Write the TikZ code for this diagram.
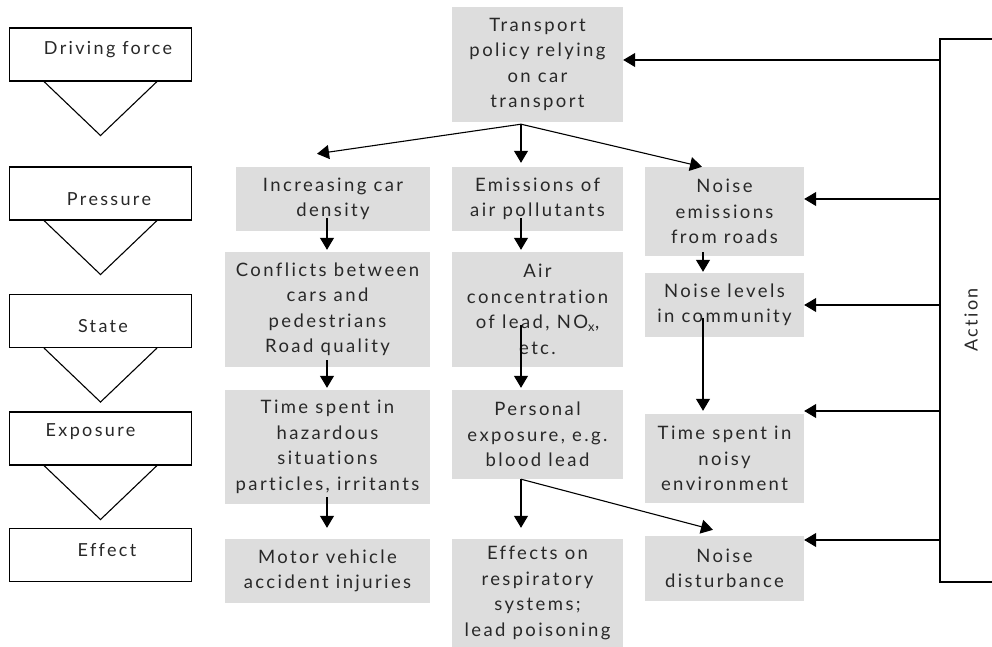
\documentclass[tikz,border=0pt]{standalone}
\usepackage{fontspec}
\setmainfont{Lato}[LetterSpace=13,Ligatures=NoCommon]
\usetikzlibrary{arrows.meta,calc}
\definecolor{boxgray}{RGB}{221,221,221}
\definecolor{txt}{RGB}{40,40,40}
\tikzset{
  gbox/.style={fill=boxgray, inner sep=0pt, align=center, font=\fontsize{18.5}{25.5}\selectfont, text=txt},
  lbox/.style={draw=black, line width=1.1pt, fill=white, minimum width=182pt, minimum height=53pt, inner sep=0pt},
  ltext/.style={font=\fontsize{18}{20}\selectfont, text=txt, inner sep=0pt},
  arr/.style={line width=1.1pt, -{Triangle[length=12pt,width=14pt]}},
  ln/.style={line width=1.1pt}
}
\begin{document}
\begin{tikzpicture}[x=1pt,y=1pt]
\useasboundingbox (0,0) rectangle (992,647);
% left column
\foreach \n/\y in {db/592.5, pb/453.5, sb/326, eb/208.5, fb/92}{
  \node[lbox] (\n) at (100.5,\y) {};
}
\foreach \n in {db,pb,sb,eb}{
  \draw[ln] ([xshift=-56.5pt]\n.south) -- ([yshift=-54pt]\n.south) -- ([xshift=56.5pt]\n.south);
}
\node[ltext] (tdb) at (108,597) {Driving force};
\node[ltext] (tpb) at (109,448) {Pressure};
\node[ltext] (tsb) at (103,321) {State};
\node[ltext] (teb) at (90.5,215) {Exposure};
\node[ltext] (tfb) at (107,97) {Effect};
% gray boxes
\node[gbox, minimum width=171pt, minimum height=115pt] (top) at (537.5,582.5) {Transport\\policy relying\\on car\\transport};
\node[gbox, minimum width=194pt, minimum height=64pt] (inc) at (333,448) {Increasing car\\density};
\node[gbox, minimum width=171pt, minimum height=64pt] (emi) at (537.5,448) {Emissions of\\air pollutants};
\node[gbox, minimum width=159pt, minimum height=89pt] (nem) at (724.5,435.5) {Noise\\emissions\\from roads};
\node[gbox, minimum width=205pt, minimum height=115pt] (con) at (327.5,337.5) {Conflicts between\\cars and\\pedestrians\\Road quality};
\node[gbox, minimum width=171pt, minimum height=115pt] (air) at (537.5,337.5) {Air\\concentration\\of lead, NO\textsubscript{x},\\etc.};
\node[gbox, minimum width=159pt, minimum height=64pt] (nlv) at (724.5,342) {Noise levels\\in community};
\node[gbox, minimum width=205pt, minimum height=114pt] (tsh) at (327.5,200) {Time spent in\\hazardous\\situations\\particles, irritants};
\node[gbox, minimum width=171pt, minimum height=89pt] (per) at (537.5,212.5) {Personal\\exposure, e.g.\\blood lead};
\node[gbox, minimum width=159pt, minimum height=89pt] (tsn) at (724.5,188.5) {Time spent in\\noisy\\environment};
\node[gbox, minimum width=205pt, minimum height=64pt] (mva) at (327.5,76) {Motor vehicle\\accident injuries};
\node[gbox, minimum width=171pt, minimum height=108pt] (eff) at (537.5,54) {Effects on\\respiratory\\systems;\\lead poisoning};
\node[gbox, minimum width=159pt, minimum height=65pt] (nds) at (724.5,78.5) {Noise\\disturbance};
% arrows from top
\coordinate (tp) at ([xshift=-16.5pt,yshift=-2pt]top.south);
\draw[arr] (tp) -- ([xshift=-16pt,yshift=13pt]inc.north);
\draw[arr] (tp) -- ([xshift=-16.5pt,yshift=4pt]emi.north);
\draw[arr] (tp) -- ([xshift=-22.5pt]nem.north);
% vertical arrows
\draw[arr] ([xshift=-6pt,yshift=13pt]inc.south) -- ([xshift=-0.5pt,yshift=2pt]con.north);
\draw[arr] ([xshift=-16.5pt,yshift=13pt]emi.south) -- ([xshift=-16.5pt,yshift=2pt]air.north);
\draw[arr] ([xshift=-21.5pt,yshift=4pt]nem.south) -- ([xshift=-21.5pt,yshift=1pt]nlv.north);
\draw[arr] ([xshift=-0.5pt,yshift=7pt]con.south) -- ([xshift=-0.5pt,yshift=2pt]tsh.north);
\draw[arr] ([xshift=-16.5pt,yshift=42pt]air.south) -- ([xshift=-16.5pt,yshift=2pt]per.north);
\draw[arr] ([xshift=-21.5pt,yshift=19pt]nlv.south) -- ([xshift=-21.5pt,yshift=3pt]tsn.north);
\draw[arr] ([xshift=-0.5pt,yshift=7pt]tsh.south) -- ([xshift=-0.5pt,yshift=11pt]mva.north);
\coordinate (pb0) at ([xshift=-16.5pt]per.south);
\draw[arr] (pb0) -- ([xshift=-16.5pt,yshift=11pt]eff.north);
\draw[arr] (pb0) -- ([xshift=-11.5pt,yshift=6pt]nds.north);
% action frame
\coordinate (at) at (940,608);
\coordinate (ab) at (940,65);
\draw[ln] (1000,608) -- (at) -- (ab) -- (1000,65);
\node[ltext, rotate=90] (act) at (971,327) {Action};
\coordinate (a1) at (940,587);
\coordinate (a2) at (940,448);
\coordinate (a3) at (940,342);
\coordinate (a4) at (940,236);
\coordinate (a5) at (940,107);
\draw[arr] (a1) -- (a1 -| top.east);
\draw[arr] (a2) -- (a2 -| nem.east);
\draw[arr] (a3) -- (a3 -| nlv.east);
\draw[arr] (a4) -- (a4 -| tsn.east);
\draw[arr] (a5) -- (a5 -| nds.east);
\end{tikzpicture}
\end{document}
